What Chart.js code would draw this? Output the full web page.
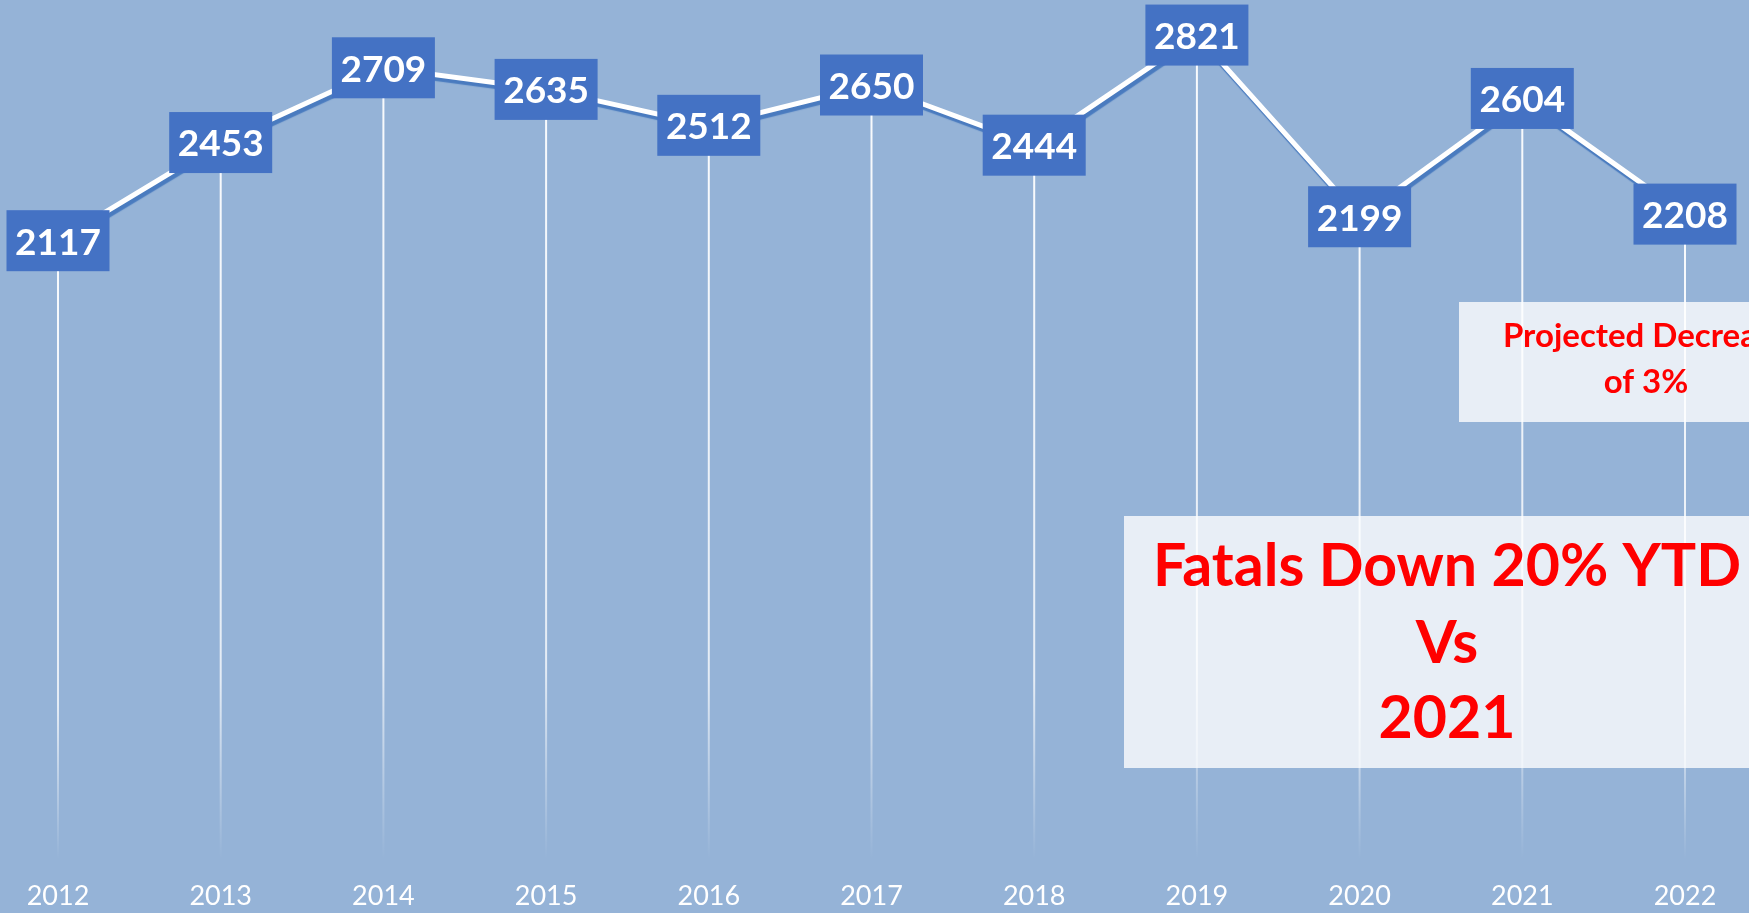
<!DOCTYPE html>
<html>
<head>
<meta charset="utf-8">
<script src="https://cdn.jsdelivr.net/npm/chart.js@4/dist/chart.umd.min.js"></script>
<style>
  html, body { margin: 0; padding: 0; background: #95b3d7; overflow: hidden; }
  canvas { display: block; }
</style>
</head>
<body>
<canvas id="grafico" width="1749" height="913"></canvas>
<script>
// dados do gráfico
const anos = ['2012', '2013', '2014', '2015', '2016', '2017', '2018', '2019', '2020', '2021', '2022'];
const fatais = [2117, 2453, 2709, 2635, 2512, 2650, 2444, 2821, 2199, 2604, 2208];
const textoProjecao = ['Projected Decrease', 'of 3%'];
const textoDestaque = ['Fatals Down 20% YTD', 'Vs', '2021'];

const fundo = '#95b3d7';
const azulCaixa = '#4472c4';
const vermelho = '#ff0000';
const fonte = 'Lato, "Open Sans", sans-serif';

// fundo + linhas de queda (drop lines)
const pluginFundo = {
  id: 'fundo',
  beforeDraw(chart) {
    const ctx = chart.ctx;
    ctx.save();
    ctx.fillStyle = fundo;
    ctx.fillRect(0, 0, chart.width, chart.height);
    ctx.restore();
  },
  beforeDatasetsDraw(chart) {
    const ctx = chart.ctx;
    const area = chart.chartArea;
    const meta = chart.getDatasetMeta(0);
    ctx.save();
    meta.data.forEach((p) => {
      const grad = ctx.createLinearGradient(0, p.y, 0, area.bottom);
      grad.addColorStop(0, 'rgba(255,255,255,0.95)');
      grad.addColorStop(0.75, 'rgba(255,255,255,0.75)');
      grad.addColorStop(1, 'rgba(255,255,255,0)');
      ctx.strokeStyle = grad;
      ctx.lineWidth = 2;
      ctx.beginPath();
      ctx.moveTo(p.x, p.y);
      ctx.lineTo(p.x, area.bottom);
      ctx.stroke();
    });
    ctx.restore();
  },
  // sombra da linha
  beforeDatasetDraw(chart) {
    const ctx = chart.ctx;
    ctx.save();
    ctx.shadowColor = 'rgba(70,120,190,0.95)';
    ctx.shadowOffsetX = 2;
    ctx.shadowOffsetY = 4;
    ctx.shadowBlur = 1;
  },
  afterDatasetDraw(chart) {
    chart.ctx.restore();
  },
};

// rótulos dos valores em caixas azuis
const pluginRotulos = {
  id: 'rotulos',
  afterDatasetsDraw(chart) {
    const ctx = chart.ctx;
    const meta = chart.getDatasetMeta(0);
    const valores = chart.data.datasets[0].data;
    ctx.save();
    ctx.font = 'bold 37px ' + fonte;
    ctx.textAlign = 'center';
    ctx.textBaseline = 'middle';
    meta.data.forEach((p, i) => {
      const w = 103, h = 61;
      ctx.fillStyle = azulCaixa;
      ctx.fillRect(p.x - w / 2, p.y - h / 2, w, h);
      ctx.fillStyle = '#ffffff';
      ctx.fillText(String(valores[i]), p.x, p.y + 2);
    });
    ctx.restore();
  },
};

// caixas de texto
const pluginCaixas = {
  id: 'caixas',
  afterDraw(chart) {
    const ctx = chart.ctx;
    ctx.save();
    ctx.fillStyle = 'rgba(255,255,255,0.78)';
    ctx.fillRect(1459, 302, 400, 120);
    ctx.fillRect(1124, 516, 700, 252);

    ctx.fillStyle = vermelho;
    ctx.textAlign = 'center';
    ctx.textBaseline = 'middle';
    ctx.font = 'bold 33px ' + fonte;
    ctx.fillText(textoProjecao[0], 1646, 336);
    ctx.fillText(textoProjecao[1], 1646, 382);

    ctx.font = 'bold 59px ' + fonte;
    ctx.fillText(textoDestaque[0], 1447, 567);
    ctx.fillText(textoDestaque[1], 1447, 644);
    ctx.fillText(textoDestaque[2], 1447, 719);
    ctx.restore();
  },
};

function criarGrafico() {
  const canvas = document.getElementById('grafico');
  const contexto = canvas.getContext('2d');

  new Chart(contexto, {
    type: 'line',
    data: {
      labels: anos,
      datasets: [
        {
          label: 'Fatals',
          data: fatais,
          borderColor: '#ffffff',
          borderWidth: 5,
          pointRadius: 0,
          tension: 0,
          fill: false,
        },
      ],
    },
    options: {
      responsive: false,
      animation: false,
      layout: {
        padding: { left: 58, right: 64, top: 12, bottom: 0 },
      },
      plugins: {
        legend: { display: false },
        tooltip: { enabled: false },
      },
      scales: {
        x: {
          offset: false,
          grid: { display: false, drawTicks: false },
          border: { display: false },
          ticks: {
            color: '#ffffff',
            font: { family: fonte, size: 27 },
            padding: 21,
            maxRotation: 0,
            autoSkip: false,
          },
          afterFit(scale) {
            scale.height = 54;
          },
        },
        y: {
          display: false,
          min: 0,
          max: 2900,
        },
      },
    },
    plugins: [pluginFundo, pluginRotulos, pluginCaixas],
  });
}

document.addEventListener('DOMContentLoaded', criarGrafico);
</script>
</body>
</html>
